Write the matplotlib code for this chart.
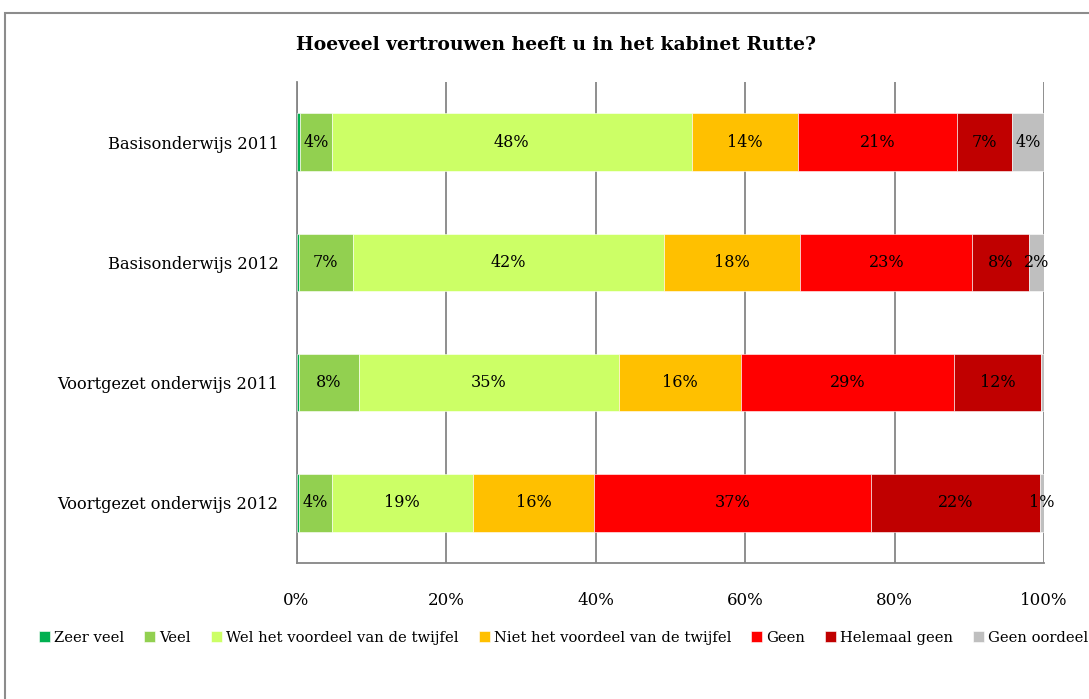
import numpy as np
import matplotlib
matplotlib.use('Agg')
import matplotlib.pyplot as plt
from matplotlib.patches import Rectangle

plt.rcParams['font.family'] = ['DejaVu Serif']

# Data (percentages)
groups = ['Basisonderwijs 2011', 'Basisonderwijs 2012',
          'Voortgezet onderwijs 2011', 'Voortgezet onderwijs 2012']
answers = ['Zeer veel', 'Veel', 'Wel het voordeel van de twijfel',
           'Niet het voordeel van de twijfel', 'Geen', 'Helemaal geen',
           'Geen oordeel']
zeer_veel = [0.45, 0.3, 0.4, 0.3]
veel = [4.3, 7.2, 7.9, 4.4]
wel_voordeel = [48.1, 41.6, 34.8, 18.9]
niet_voordeel = [14.2, 18.3, 16.3, 16.2]
geen = [21.3, 23.0, 28.6, 37.1]
helemaal_geen = [7.4, 7.6, 11.55, 22.5]
geen_oordeel = [4.25, 2.0, 0.45, 0.6]
colors = ['#00B050', '#92D050', '#CCFF66', '#FFC000', '#FF0000', '#C00000', '#BFBFBF']

series = [zeer_veel, veel, wel_voordeel, niet_voordeel, geen, helemaal_geen, geen_oordeel]

fig = plt.figure(figsize=(10.89, 6.99), dpi=100)
ax = fig.add_axes([296.5 / 1089, 1 - 563 / 699, (1044 - 296.5) / 1089, (563 - 82) / 699])

# outer chart border
fig.patches.append(Rectangle((5 / 1089, -0.1), 1.2, 1 - 13 / 699 + 0.1,
                             transform=fig.transFigure, fill=False,
                             edgecolor='#8c8c8c', linewidth=1.5))

y = np.arange(len(groups))[::-1]
left = np.zeros(len(groups))
for vals, name, col in zip(series, answers, colors):
    vals = np.array(vals)
    ax.barh(y, vals, left=left, height=0.48, color=col, label=name,
            edgecolor='white', linewidth=0.4, zorder=3)
    for yi, l, v in zip(y, left, vals):
        if round(v) >= 1 and name != 'Zeer veel':
            ax.text(l + v / 2, yi, f'{round(v):.0f}%', ha='center', va='center',
                    fontsize=11.5, color='black', zorder=4)
    left += vals

ax.set_xlim(0, 100)
ax.set_ylim(-0.5, 3.5)
ax.set_yticks(y)
ax.set_yticklabels(groups, fontsize=11.7)
ax.set_xticks(np.arange(0, 101, 20))
ax.set_xticklabels([f'{t}%' for t in range(0, 101, 20)], fontsize=12)
ax.tick_params(axis='both', length=0)
ax.tick_params(axis='y', pad=13)
ax.tick_params(axis='x', pad=21)
ax.grid(axis='x', color='#868686', linewidth=1.3, zorder=0)
for s in ['top', 'right']:
    ax.spines[s].set_visible(False)
for s in ['left', 'bottom']:
    ax.spines[s].set_color('#868686')
    ax.spines[s].set_linewidth(1.3)

fig.text(556 / 1089, 1 - 45 / 699, 'Hoeveel vertrouwen heeft u in het kabinet Rutte?',
         ha='center', va='center', fontsize=13.5, fontweight='bold')

fig.legend(loc='center left', bbox_to_anchor=(33 / 1089, 1 - 638 / 699), ncol=7,
           frameon=False, fontsize=10.6, handlelength=0.75, handleheight=0.75,
           handletextpad=0.3, columnspacing=1.33, borderaxespad=0)

fig.savefig('out.png', dpi=100)
